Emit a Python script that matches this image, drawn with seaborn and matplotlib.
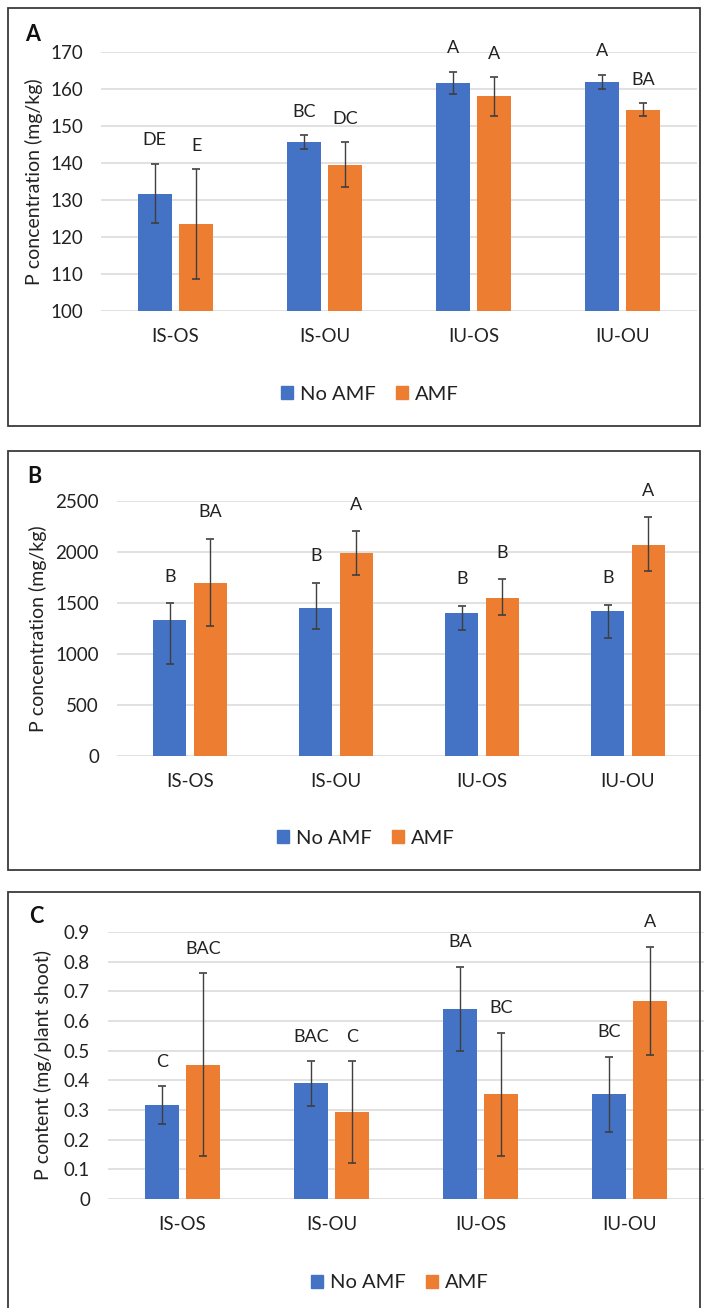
import matplotlib
matplotlib.use("Agg")
import matplotlib.pyplot as plt
import matplotlib.patches as mpatches
from matplotlib.container import BarContainer
from matplotlib.ticker import FuncFormatter
import seaborn as sns
import pandas as pd

# ---------------- data ----------------
categories = ["IS-OS", "IS-OU", "IU-OS", "IU-OU"]
series = ["No AMF", "AMF"]

# Panel A: P concentration (mg/kg)
a_noamf = [131.6, 145.7, 161.6, 161.8]
a_amf = [123.4, 139.4, 158.1, 154.2]
a_noamf_lo = [7.9, 1.8, 2.9, 1.9]
a_noamf_hi = [8.1, 1.8, 3.1, 2.0]
a_amf_lo = [14.7, 6.0, 5.3, 1.6]
a_amf_hi = [14.9, 6.2, 5.1, 1.9]
a_noamf_letters = ["DE", "BC", "A", "A"]
a_amf_letters = ["E", "DC", "A", "BA"]

# Panel B: P concentration (mg/kg)
b_noamf = [1328, 1449, 1403, 1423]
b_amf = [1697, 1991, 1550, 2069]
b_noamf_lo = [424, 206, 169, 264]
b_noamf_hi = [170, 248, 69, 59]
b_amf_lo = [427, 216, 170, 258]
b_amf_hi = [431, 209, 183, 271]
b_noamf_letters = ["B", "B", "B", "B"]
b_amf_letters = ["BA", "A", "B", "A"]

# Panel C: P content (mg/plant shoot)
c_noamf = [0.316, 0.391, 0.642, 0.353]
c_amf = [0.451, 0.293, 0.353, 0.667]
c_noamf_lo = [0.064, 0.076, 0.142, 0.126]
c_noamf_hi = [0.064, 0.074, 0.141, 0.127]
c_amf_lo = [0.307, 0.171, 0.209, 0.182]
c_amf_hi = [0.310, 0.172, 0.208, 0.184]
c_noamf_letters = ["C", "BAC", "BA", "BC"]
c_amf_letters = ["BAC", "C", "BC", "A"]

# ---------------- style ----------------
sns.set_theme(style="white")
plt.rcParams["font.family"] = ["Lato", "DejaVu Sans"]

BLUE = "#4472C4"
ORANGE = "#ED7D31"
TXT = "#222222"
GRID = "#d9d9d9"
W, H = 709, 1308

fig = plt.figure(figsize=(W / 100, H / 100), dpi=100)


def fx(px):
    return px / W


def fy(py):
    return 1 - py / H


panels = [
    dict(tag="A", means=(a_noamf, a_amf), lo=(a_noamf_lo, a_amf_lo), hi=(a_noamf_hi, a_amf_hi),
         letters=(a_noamf_letters, a_amf_letters), ylim=(100, 170), ticks=list(range(100, 171, 10)),
         ylabel="P concentration (mg/kg)", box=(8, 8, 700, 426), axes=(101, 52, 697, 311),
         ylab_x=43, letter_off=17, legend=(370, 394), tag_pos=(25, 41), fmt=None),
    dict(tag="B", means=(b_noamf, b_amf), lo=(b_noamf_lo, b_amf_lo), hi=(b_noamf_hi, b_amf_hi),
         letters=(b_noamf_letters, b_amf_letters), ylim=(0, 2500), ticks=list(range(0, 2501, 500)),
         ylabel="P concentration (mg/kg)", box=(8, 451, 700, 870), axes=(117, 500.7, 701, 756),
         ylab_x=47, letter_off=19, legend=(366, 838), tag_pos=(27, 483), fmt=None),
    dict(tag="C", means=(c_noamf, c_amf), lo=(c_noamf_lo, c_amf_lo), hi=(c_noamf_hi, c_amf_hi),
         letters=(c_noamf_letters, c_amf_letters), ylim=(0, 0.9), ticks=[i / 10 for i in range(10)],
         ylabel="P content (mg/plant shoot)", box=(8, 892, 700, 1312), axes=(108, 932, 704, 1199),
         ylab_x=52, letter_off=17.5, legend=(400, 1283), tag_pos=(29, 923),
         fmt=lambda v, p: "0" if abs(v) < 1e-9 else f"{v:.1f}"),
]

for P in panels:
    # panel border
    x0, y0, x1, y1 = P["box"]
    fig.patches.append(mpatches.Rectangle((fx(x0), fy(y1)), fx(x1) - fx(x0), fy(y0) - fy(y1),
                                          transform=fig.transFigure, fill=False,
                                          edgecolor="#3a3a3a", linewidth=1.3, zorder=0))
    ax_l, ax_t, ax_r, ax_b = P["axes"]
    ax = fig.add_axes([fx(ax_l), fy(ax_b), fx(ax_r) - fx(ax_l), fy(ax_t) - fy(ax_b)])

    df = pd.DataFrame({
        "category": categories * 2,
        "series": [series[0]] * 4 + [series[1]] * 4,
        "value": list(P["means"][0]) + list(P["means"][1]),
    })
    sns.barplot(data=df, x="category", y="value", hue="series", order=categories,
                hue_order=series, palette=[BLUE, ORANGE], saturation=1, errorbar=None,
                width=0.557, gap=0.18, linewidth=0, legend=False, ax=ax, zorder=2)

    bar_conts = [c for c in ax.containers if isinstance(c, BarContainer)]
    for k, cont in enumerate(bar_conts):
        xs = [b.get_x() + b.get_width() / 2 for b in cont]
        ys = [b.get_height() for b in cont]
        lo = P["lo"][k]
        hi = P["hi"][k]
        ax.errorbar(xs, ys, yerr=[lo, hi], fmt="none", ecolor="#3f3f3f",
                    elinewidth=1.0, capsize=2.6, capthick=1.2, zorder=3)
        for xv, yv, h, lab in zip(xs, ys, hi, P["letters"][k]):
            ax.annotate(lab, xy=(xv, yv + h), xytext=(0, P["letter_off"]),
                        textcoords="offset points", ha="center", va="center",
                        fontsize=13, color=TXT, annotation_clip=False)

    ax.set_ylim(*P["ylim"])
    ax.set_xlim(-0.5, 3.5)
    ax.set_yticks(P["ticks"])
    if P["fmt"] is not None:
        ax.yaxis.set_major_formatter(FuncFormatter(P["fmt"]))
    ax.yaxis.grid(True, color=GRID, linewidth=1.1, zorder=0)
    ax.xaxis.grid(False)
    ax.set_axisbelow(True)
    for s in ax.spines.values():
        s.set_visible(False)
    ax.tick_params(axis="y", length=0, pad=13, labelsize=13.5, labelcolor=TXT)
    ax.tick_params(axis="x", length=0, pad=12.5, labelsize=13.5, labelcolor=TXT)
    ax.set_xlabel("")
    ax.set_ylabel(P["ylabel"], fontsize=14, color=TXT)
    ax.yaxis.set_label_coords((P["ylab_x"] - ax_l) / (ax_r - ax_l), 0.5)
    ax.patch.set_alpha(0)

    handles = [mpatches.Patch(color=BLUE, label=series[0]),
               mpatches.Patch(color=ORANGE, label=series[1])]
    lx, ly = P["legend"]
    ax.legend(handles=handles, loc="center", bbox_to_anchor=(fx(lx), fy(ly)),
              bbox_transform=fig.transFigure, ncol=2, frameon=False, fontsize=14.5,
              handlelength=0.6, handleheight=0.6, handletextpad=0.35,
              columnspacing=1.0, labelcolor=TXT)

    tx, ty = P["tag_pos"]
    fig.text(fx(tx), fy(ty), P["tag"], fontsize=15.5, fontweight="bold", color="#111111",
             ha="left", va="baseline")

fig.savefig("out.png", dpi=100, facecolor="white")
